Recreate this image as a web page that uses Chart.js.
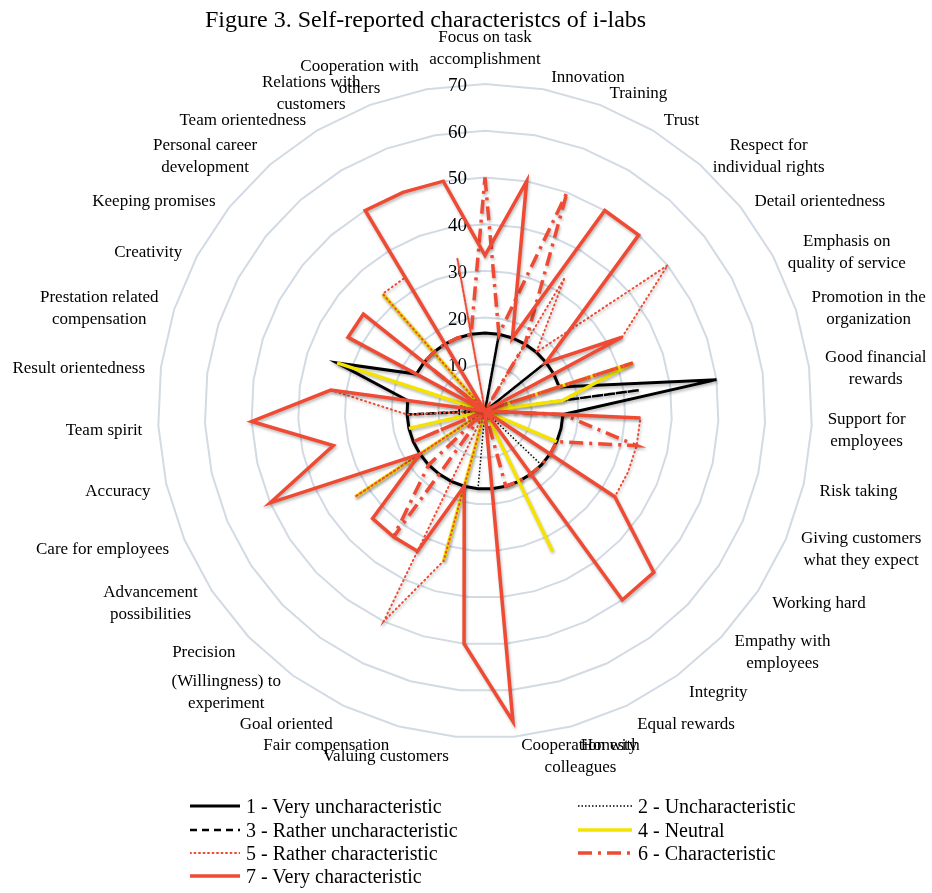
<!DOCTYPE html>
<html>
<head>
<meta charset="utf-8">
<title>Figure 3. Self-reported characteristcs of i-labs</title>
<script src="https://cdn.jsdelivr.net/npm/chart.js@4.4.1/dist/chart.umd.min.js"></script>
<style>
  html, body { margin: 0; padding: 0; background: #fff; }
  body { width: 932px; height: 893px; position: relative; overflow: hidden; font-family: "Liberation Serif", "DejaVu Serif", serif; }
  #chart { position: absolute; left: 0; top: 0; }
  .title { position: absolute; left: 205px; top: 6px; font-size: 24px; line-height: 26px; white-space: nowrap; }
  .legend-item { position: absolute; height: 24px; display: flex; align-items: center; font-size: 20px; white-space: nowrap; }
  .legend-item svg { margin-right: 6px; }
</style>
</head>
<body>
<canvas id="chart" width="932" height="893"></canvas>
<div class="title">Figure 3. Self-reported characteristcs of i-labs</div>
<div id="legend"></div>
<script>
// categories, clockwise from the top
const categories = [
    ['Focus on task', 'accomplishment'],
    ['Innovation'],
    ['Training'],
    ['Trust'],
    ['Respect for', 'individual rights'],
    ['Detail orientedness'],
    ['Emphasis on', 'quality of service'],
    ['Promotion in the', 'organization'],
    ['Good financial', 'rewards'],
    ['Support for', 'employees'],
    ['Risk taking'],
    ['Giving customers', 'what they expect'],
    ['Working hard'],
    ['Empathy with', 'employees'],
    ['Integrity'],
    ['Equal rewards'],
    ['Honesty'],
    ['Cooperation with', 'colleagues'],
    ['Valuing customers'],
    ['Fair compensation'],
    ['Goal oriented'],
    ['(Willingness) to', 'experiment'],
    ['Precision'],
    ['Advancement', 'possibilities'],
    ['Care for employees'],
    ['Accuracy'],
    ['Team spirit'],
    ['Result orientedness'],
    ['Prestation related', 'compensation'],
    ['Creativity'],
    ['Keeping promises'],
    ['Personal career', 'development'],
    ['Team orientedness'],
    ['Relations with', 'customers'],
    ['Cooperation with', 'others']
];

const seriesNames = [
    '1 - Very uncharacteristic',
    '2 - Uncharacteristic',
    '3 - Rather uncharacteristic',
    '4 - Neutral',
    '5 - Rather characteristic',
    '6 - Characteristic',
    '7 - Very characteristic'
];

const tickValues = [0, 10, 20, 30, 40, 50, 60, 70];

// share of i-labs (%) per answer
const veryUncharacteristic = [16.7, 16.7, 16.7, 16.7, 16.7, 16.7, 16.7, 16.7, 50, 16.7, 16.7, 16.7, 16.7, 16.7, 16.7, 16.7, 16.7, 16.7, 16.7, 16.7, 16.7, 16.7, 16.7, 16.7, 16.7, 16.7, 16.7, 16.7, 33.3, 16.7, 16.7, 16.7, 16.7, 16.7, 16.7];
const uncharacteristic = [0, 0, 0, 0, 0, 0, 0, 0, 0, 0, 0, 0, 0, 16.7, 16.7, 16.7, 16.7, 16.7, 16.7, 0, 0, 0, 0, 0, 0, 0, 0, 0, 0, 0, 0, 0, 0, 0, 0];
const ratherUncharacteristic = [0, 16.7, 0, 0, 0, 16.7, 0, 0, 33.3, 0, 0, 0, 0, 0, 0, 0, 0, 0, 0, 0, 0, 0, 0, 0, 0, 0, 16.7, 0, 0, 0, 0, 0, 0, 0, 0];
const neutral = [0, 0, 0, 0, 0, 0, 0, 33.3, 16.7, 0, 0, 16.7, 0, 0, 0, 33.3, 0, 0, 0, 33.3, 0, 0, 0, 33.3, 0, 16.7, 0, 0, 33.3, 0, 0, 33.3, 0, 0, 0];
const ratherCharacteristic = [0, 0, 0, 33.3, 16.7, 50, 33.3, 0, 0, 33.3, 33.3, 33.3, 33.3, 0, 0, 0, 0, 0, 0, 33.3, 50, 0, 0, 33.3, 0, 0, 16.7, 33.3, 0, 33.3, 0, 33.3, 33.3, 0, 33.3];
const characteristic = [50, 16.7, 50, 16.7, 0, 0, 0, 33.3, 0, 16.7, 33.3, 16.7, 16.7, 16.7, 16.7, 16.7, 16.7, 0, 0, 0, 0, 33.3, 16.7, 0, 16.7, 0, 0, 0, 0, 0, 16.7, 16.7, 16.7, 16.7, 16.7];
const veryCharacteristic = [33.3, 50, 16.7, 50, 50, 16.7, 33.3, 0, 0, 33.3, 0, 0, 33.3, 50, 50, 0, 0, 66.7, 50, 16.7, 33.3, 33.3, 33.3, 16.7, 50, 33.3, 50, 33.3, 0, 33.3, 33.3, 0, 50, 50, 50];

const RED = '#ef4a33';
const YELLOW = '#f4e300';

// line look for each answer
const lineStyles = [
    { color: '#000000', width: 3, dash: [] },
    { color: '#000000', width: 1.5, dash: [1.5, 2] },
    { color: '#000000', width: 2.5, dash: [7, 5] },
    { color: YELLOW, width: 3.5, dash: [] },
    { color: RED, width: 2, dash: [1, 3.5], cap: 'round' },
    { color: RED, width: 3.5, dash: [14, 6, 3, 6] },
    { color: RED, width: 3.5, dash: [] }
];

const allValues = [veryUncharacteristic, uncharacteristic, ratherUncharacteristic, neutral,
    ratherCharacteristic, characteristic, veryCharacteristic];

const datasets = allValues.map((vals, i) => ({
    label: seriesNames[i],
    data: vals,
    borderColor: lineStyles[i].color,
    borderWidth: lineStyles[i].width,
    borderDash: lineStyles[i].dash,
    borderCapStyle: lineStyles[i].cap || 'butt',
    borderJoinStyle: 'miter',
    fill: false,
    pointRadius: 0,
    pointHoverRadius: 0,
    tension: 0,
    order: 7 - i   // later answers are drawn on top, as in Excel
}));

const serif = '"Liberation Serif", "DejaVu Serif", serif';

// soft shadow under every line
const shadowPlugin = {
    id: 'lineShadow',
    beforeDatasetDraw(chart) {
        const ctx = chart.ctx;
        ctx.save();
        ctx.shadowColor = 'rgba(0,0,0,0.28)';
        ctx.shadowBlur = 3;
        ctx.shadowOffsetX = 1;
        ctx.shadowOffsetY = 2;
    },
    afterDatasetDraw(chart) {
        chart.ctx.restore();
    }
};

// Excel-like tick and category labels
const labelPlugin = {
    id: 'excelLabels',
    beforeDatasetsDraw(chart) {
        const scale = chart.scales.r;
        const ctx = chart.ctx;
        ctx.save();
        ctx.font = '19px ' + serif;
        ctx.fillStyle = '#000';
        ctx.textAlign = 'right';
        ctx.textBaseline = 'middle';
        scale.ticks.forEach(t => {
            const d = scale.getDistanceFromCenterForValue(t.value);
            ctx.fillText(String(t.value), scale.xCenter - 18, scale.yCenter - d + 2);
        });
        ctx.restore();
    },
    afterDraw(chart) {
        const scale = chart.scales.r;
        const ctx = chart.ctx;
        const lineH = 22;
        ctx.save();
        ctx.font = '17px ' + serif;
        ctx.fillStyle = '#000';
        ctx.textAlign = 'center';
        ctx.textBaseline = 'middle';
        categories.forEach((lines, i) => {
            const deg = i * 360 / categories.length;
            const rad = deg * Math.PI / 180;
            const p = scale.getPointPosition(i, scale.drawingArea + 10);
            const w = Math.max(...lines.map(l => ctx.measureText(l).width));
            const h = lines.length * lineH;
            let cx = p.x;
            if (deg > 3 && deg < 177) cx = p.x + 6 + w / 2;
            else if (deg > 183) cx = p.x - 6 - w / 2;
            let cy = p.y - Math.cos(rad) * 6 + 4;
            if (i === 0) cy = p.y - 3 - h / 2;
            lines.forEach((l, k) => {
                ctx.fillText(l, cx, cy - h / 2 + lineH * (k + 0.5));
            });
        });
        ctx.restore();
    }
};

new Chart(document.getElementById('chart'), {
    type: 'radar',
    data: {
        labels: categories,
        datasets: datasets
    },
    options: {
        responsive: false,
        animation: false,
        layout: { padding: { left: 158, right: 120, top: 84, bottom: 155 } },
        plugins: {
            legend: { display: false },
            tooltip: { enabled: false }
        },
        scales: {
            r: {
                min: tickValues[0],
                max: tickValues[tickValues.length - 1],
                ticks: { stepSize: 10, display: false },
                grid: { color: '#d2dae4', lineWidth: 2, circular: false },
                angleLines: { display: false },
                pointLabels: { display: false }
            }
        }
    },
    plugins: [shadowPlugin, labelPlugin]
});

// legend in two columns, like the original
const legend = document.getElementById('legend');
const legendSpots = [
    [190, 794], [578, 794],
    [190, 818], [578, 818],
    [190, 841], [578, 841],
    [190, 864]
];
seriesNames.forEach((name, i) => {
    const st = lineStyles[i];
    const item = document.createElement('div');
    item.className = 'legend-item';
    item.style.left = legendSpots[i][0] + 'px';
    item.style.top = legendSpots[i][1] + 'px';
    const w = i % 2 === 0 ? 50 : 54;
    item.innerHTML = `<svg width="${w}" height="8"><line x1="0" y1="4" x2="${w}" y2="4" stroke="${st.color}"
        stroke-width="${st.width}" stroke-dasharray="${st.dash.join(' ')}" stroke-linecap="${st.cap || 'butt'}"/></svg><span>${name}</span>`;
    legend.appendChild(item);
});
</script>
</body>
</html>
